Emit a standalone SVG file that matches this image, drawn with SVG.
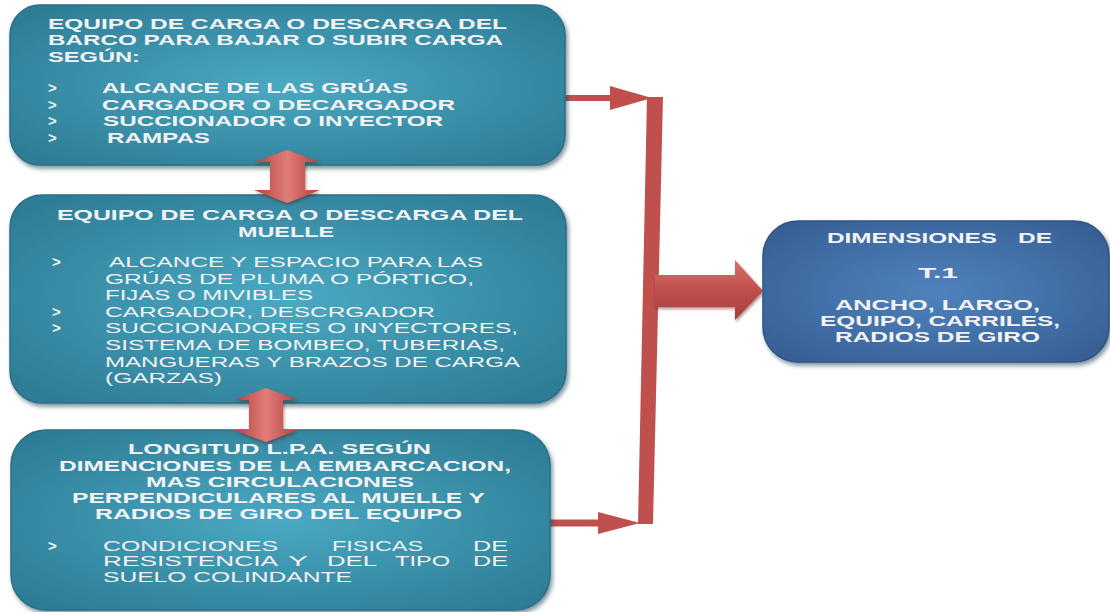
<svg xmlns="http://www.w3.org/2000/svg" width="1110" height="612" viewBox="0 0 1110 612">
<defs>
<radialGradient id="teal" cx="0.5" cy="0.5" r="0.65">
<stop offset="0" stop-color="#4aa9c3"/>
<stop offset="1" stop-color="#2e7c95"/>
</radialGradient>
<radialGradient id="blue" cx="0.5" cy="0.5" r="0.65">
<stop offset="0" stop-color="#4f83be"/>
<stop offset="1" stop-color="#375f94"/>
</radialGradient>
<linearGradient id="dbl" x1="0" y1="0" x2="1" y2="0">
<stop offset="0" stop-color="#b4403d"/>
<stop offset="0.5" stop-color="#e07c78"/>
<stop offset="1" stop-color="#b4403d"/>
</linearGradient>
<linearGradient id="big" x1="0" y1="0" x2="0" y2="1">
<stop offset="0" stop-color="#d8716d"/>
<stop offset="0.5" stop-color="#c0504d"/>
<stop offset="1" stop-color="#a63e3b"/>
</linearGradient>
<filter id="sh" x="-5%" y="-5%" width="110%" height="115%">
<feDropShadow dx="2" dy="3" stdDeviation="2" flood-color="#16404f" flood-opacity="0.55"/>
</filter>
<filter id="ash" x="-20%" y="-20%" width="140%" height="140%">
<feDropShadow dx="1" dy="2" stdDeviation="1.5" flood-color="#5a1a18" flood-opacity="0.5"/>
</filter>
</defs>
<style>
.box{fill:url(#teal);stroke:#2a6f86;stroke-width:1.5;filter:url(#sh)}
.bbox{fill:url(#blue);stroke:#2f5482;stroke-width:1.5;filter:url(#sh)}
text{font-family:"Liberation Sans",Arial,sans-serif;fill:#f3f3f3;font-size:15px}
.b{font-weight:bold}
.red{fill:#c0504d}
.redl{stroke:#c0504d;fill:none}
</style>

<g id="connectors">
<line class="redl" x1="564" y1="98" x2="612" y2="98" stroke-width="6"/>
<polygon class="red" points="610,86 652,98 610,110"/>
<polygon class="red" points="647,97 663,97 653,524 638,524"/>
<line class="redl" x1="549" y1="523" x2="600" y2="523" stroke-width="7"/>
<polygon class="red" points="598,512 640,523 598,534"/>
<polygon fill="url(#big)" filter="url(#ash)" points="655,275 735,275 735,260 763,291 735,320 735,307 655,307"/>
</g>

<g id="box1">
<rect class="box" x="10" y="5" width="555" height="160" rx="30"/>
<text class="b" x="48" y="29" textLength="459" lengthAdjust="spacingAndGlyphs">EQUIPO DE CARGA O DESCARGA  DEL</text>
<text class="b" x="48" y="45" textLength="455" lengthAdjust="spacingAndGlyphs">BARCO PARA BAJAR O SUBIR CARGA</text>
<text class="b" x="48" y="62" textLength="92" lengthAdjust="spacingAndGlyphs">SEGÚN:</text>
<text class="b" x="48" y="93">&gt;</text>
<text class="b" x="48" y="110">&gt;</text>
<text class="b" x="48" y="126">&gt;</text>
<text class="b" x="48" y="143">&gt;</text>
<text class="b" x="102" y="93" textLength="306" lengthAdjust="spacingAndGlyphs">ALCANCE DE LAS GRÚAS</text>
<text class="b" x="102" y="110" textLength="353" lengthAdjust="spacingAndGlyphs">CARGADOR O DECARGADOR</text>
<text class="b" x="103" y="126" textLength="340" lengthAdjust="spacingAndGlyphs">SUCCIONADOR O INYECTOR</text>
<text class="b" x="107" y="143" textLength="103" lengthAdjust="spacingAndGlyphs">RAMPAS</text>
</g>

<g id="box2">
<rect class="box" x="10" y="195" width="556" height="208" rx="32"/>
<text class="b" x="57" y="220" textLength="466" lengthAdjust="spacingAndGlyphs">EQUIPO DE CARGA O DESCARGA DEL</text>
<text class="b" x="238" y="237" textLength="96" lengthAdjust="spacingAndGlyphs">MUELLE</text>
<text class="b" x="52" y="267">&gt;</text>
<text class="b" x="52" y="317">&gt;</text>
<text class="b" x="52" y="333">&gt;</text>
<text x="109" y="267" textLength="374" lengthAdjust="spacingAndGlyphs">ALCANCE Y ESPACIO PARA LAS</text>
<text x="105" y="284" textLength="369" lengthAdjust="spacingAndGlyphs">GRÚAS DE PLUMA O PÓRTICO,</text>
<text x="105" y="300" textLength="208" lengthAdjust="spacingAndGlyphs">FIJAS O MIVIBLES</text>
<text x="105" y="317" textLength="330" lengthAdjust="spacingAndGlyphs">CARGADOR, DESCRGADOR</text>
<text x="105" y="333" textLength="413" lengthAdjust="spacingAndGlyphs">SUCCIONADORES O INYECTORES,</text>
<text x="105" y="350" textLength="400" lengthAdjust="spacingAndGlyphs">SISTEMA DE BOMBEO, TUBERIAS,</text>
<text x="105" y="367" textLength="415" lengthAdjust="spacingAndGlyphs">MANGUERAS Y BRAZOS DE CARGA</text>
<text x="105" y="383" textLength="117" lengthAdjust="spacingAndGlyphs">(GARZAS)</text>
</g>

<g id="box3">
<rect class="box" x="11" y="430" width="539" height="180" rx="35"/>
<text class="b" x="128" y="454" textLength="303" lengthAdjust="spacingAndGlyphs">LONGITUD L.P.A. SEGÚN</text>
<text class="b" x="59" y="471" textLength="452" lengthAdjust="spacingAndGlyphs">DIMENCIONES DE LA EMBARCACION,</text>
<text class="b" x="146" y="487" textLength="268" lengthAdjust="spacingAndGlyphs">MAS CIRCULACIONES</text>
<text class="b" x="72" y="503" textLength="413" lengthAdjust="spacingAndGlyphs">PERPENDICULARES AL MUELLE Y</text>
<text class="b" x="95" y="519" textLength="367" lengthAdjust="spacingAndGlyphs">RADIOS DE GIRO DEL EQUIPO</text>
<text class="b" x="48" y="551">&gt;</text>
<text x="103" y="551" textLength="175" lengthAdjust="spacingAndGlyphs">CONDICIONES</text>
<text x="332" y="551" textLength="91" lengthAdjust="spacingAndGlyphs">FISICAS</text>
<text x="473" y="551" textLength="35" lengthAdjust="spacingAndGlyphs">DE</text>
<text x="103" y="566" textLength="175" lengthAdjust="spacingAndGlyphs">RESISTENCIA</text>
<text x="288" y="566" textLength="20" lengthAdjust="spacingAndGlyphs">Y</text>
<text x="327" y="566" textLength="50" lengthAdjust="spacingAndGlyphs">DEL</text>
<text x="395" y="566" textLength="55" lengthAdjust="spacingAndGlyphs">TIPO</text>
<text x="473" y="566" textLength="35" lengthAdjust="spacingAndGlyphs">DE</text>
<text x="103" y="582" textLength="249" lengthAdjust="spacingAndGlyphs">SUELO COLINDANTE</text>
</g>

<g id="box4">
<rect class="bbox" x="763" y="221" width="346" height="141" rx="35"/>
<text class="b" x="827" y="243" textLength="170" lengthAdjust="spacingAndGlyphs">DIMENSIONES</text>
<text class="b" x="1018" y="243" textLength="34" lengthAdjust="spacingAndGlyphs">DE</text>
<text class="b" x="918" y="278" font-size="18" textLength="40" lengthAdjust="spacingAndGlyphs">T.1</text>
<text class="b" x="835" y="310" textLength="205" lengthAdjust="spacingAndGlyphs">ANCHO, LARGO,</text>
<text class="b" x="820" y="326" textLength="240" lengthAdjust="spacingAndGlyphs">EQUIPO, CARRILES,</text>
<text class="b" x="835" y="342" textLength="205" lengthAdjust="spacingAndGlyphs">RADIOS DE GIRO</text>
</g>

<g id="double-arrows">
<polygon fill="url(#dbl)" filter="url(#ash)" points="287,150 320,162 305,162 305,190 320,190 287,203 254,190 270,190 270,162 254,162"/>
<polygon fill="url(#dbl)" filter="url(#ash)" points="266,388 298,400 283,400 283,430 298,430 266,442 234,430 249,430 249,400 234,400"/>
</g>
</svg>
